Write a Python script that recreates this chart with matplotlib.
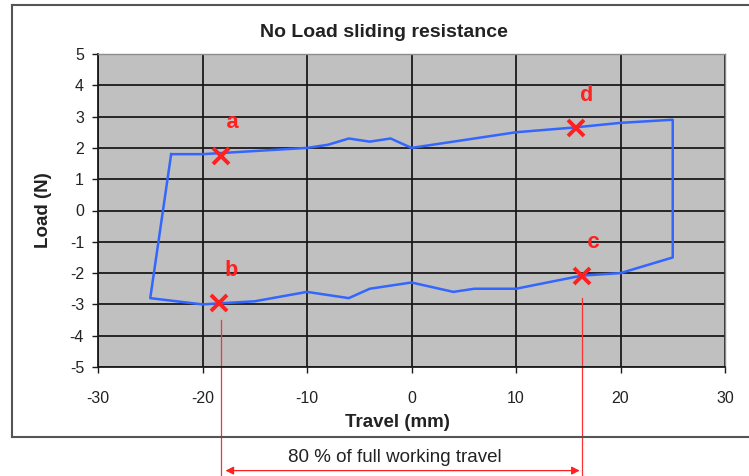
import matplotlib.pyplot as plt
from matplotlib.lines import Line2D

# loop measured on the rig: travel (mm) vs load (N)
travel = [-23, -20, -15, -10, -8, -6, -4, -2, 0, 10, 15.5, 20, 25,
          25, 20, 16.3, 10, 6, 4, 0, -4, -6, -10, -15, -20, -25, -23]
load = [1.8, 1.8, 1.9, 2.0, 2.1, 2.3, 2.2, 2.3, 2.0, 2.5, 2.65, 2.8, 2.9,
        -1.5, -2.0, -2.08, -2.5, -2.5, -2.6, -2.3, -2.5, -2.8, -2.6, -2.9, -3.0, -2.8, 1.8]

mark_names = ['a', 'b', 'c', 'd']
mark_x = [-18.2, -18.4, 16.3, 15.7]
mark_y = [1.75, -2.97, -2.08, 2.63]

xticks = [-30, -20, -10, 0, 10, 20, 30]
yticks = [5, 4, 3, 2, 1, 0, -1, -2, -3, -4, -5]

plt.rcParams['font.family'] = ['Liberation Sans', 'DejaVu Sans']
plt.rcParams['axes.unicode_minus'] = False

fig = plt.figure(figsize=(7.49, 4.76), dpi=100)
ax = fig.add_axes([98/749, 1-367/476, 627/749, 313/476])

ax.set_facecolor('#c0c0c0')
ax.plot(travel, load, color='#3366ff', lw=1.8, zorder=3)

ax.set_xlim(-30, 30)
ax.set_ylim(-5, 5)
ax.set_xticks(xticks)
ax.set_yticks(yticks)
ax.grid(True, color='#1a1a1a', lw=1.3, zorder=1)
ax.set_axisbelow(True)
ax.tick_params(axis='both', direction='out', length=4, width=1, color='#1a1a1a',
               labelsize=11.5, labelcolor='#222222')
ax.tick_params(axis='y', pad=6)
ax.tick_params(axis='x', pad=13)
for side in ['left', 'bottom']:
    ax.spines[side].set_color('#1a1a1a')
    ax.spines[side].set_linewidth(1.3)
for side in ['top', 'right']:
    ax.spines[side].set_color('#8c8c8c')
    ax.spines[side].set_linewidth(1)

ax.set_title('No Load sliding resistance', fontsize=14, fontweight='bold',
             color='#222222', pad=12, x=0.456)
ax.set_xlabel('Travel (mm)', fontsize=13.5, fontweight='bold', color='#222222',
              labelpad=6, x=0.478)
ax.set_ylabel('Load (N)', fontsize=13.5, fontweight='bold', color='#222222', labelpad=13)

# red crosses with letters
ax.plot(mark_x, mark_y, 'x', color='#ff2020', ms=11, mew=2.8, zorder=5)
for name, x, y in zip(mark_names, mark_x, mark_y):
    ax.text(x + 1.1, y + 1.05, name, color='#ff2020', fontsize=16, fontweight='bold',
            family='Liberation Mono', ha='center', va='center', zorder=5)

# 80 % span below the chart
ax.plot([-18.25, -18.25], [-3.5, -8.7], color='#ff3030', lw=0.9, clip_on=False)
ax.plot([16.35, 16.35], [-2.8, -8.7], color='#ff3030', lw=0.9, clip_on=False)
ax.annotate('', xy=(-17.8, -8.31), xytext=(16.1, -8.31),
            arrowprops=dict(arrowstyle='<|-|>', color='#ff2020', lw=0.9,
                            mutation_scale=12, shrinkA=0, shrinkB=0),
            annotation_clip=False)
ax.text(-1.6, -7.9, '80 % of full working travel', fontsize=13.5, color='#222222',
        ha='center', va='center', clip_on=False)

# outer chart frame
fcol = '#555555'
fig.add_artist(Line2D([12/749, 12/749], [1-437/476, 1-5/476], color=fcol, lw=1.5))
fig.add_artist(Line2D([12/749, 1], [1-5/476, 1-5/476], color=fcol, lw=1.5))
fig.add_artist(Line2D([12/749, 1], [1-437/476, 1-437/476], color=fcol, lw=1.5))

fig.savefig('out.png', dpi=100)
